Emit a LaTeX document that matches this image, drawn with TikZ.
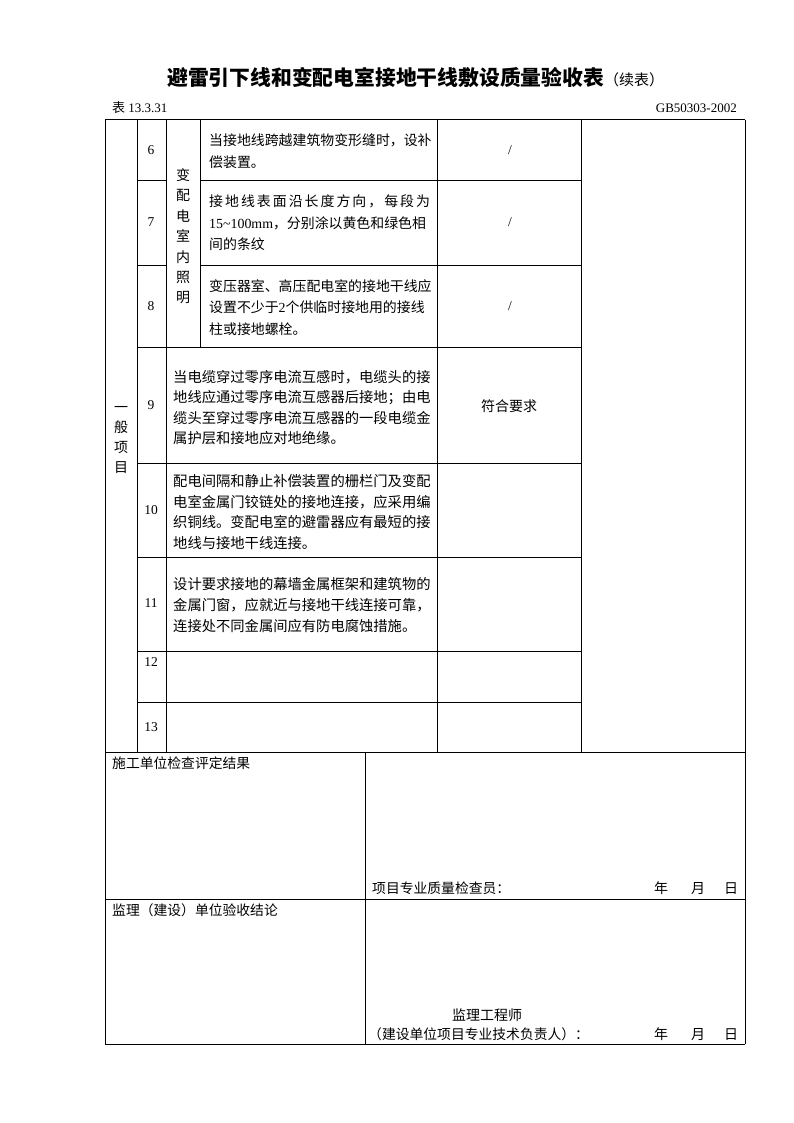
\documentclass[tikz,border=0pt]{standalone}
\usepackage{fontspec}
\setmainfont{Liberation Serif}
\newfontfamily\cjk{Noto Sans CJK SC}
\begin{document}
\begin{tikzpicture}[x=1pt,y=-1pt,
  grid/.style={line width=1pt,black},
  cell/.style={anchor=base west,inner sep=0pt,font=\cjk\fontsize{13.9}{14}\selectfont},
  cellw/.style={anchor=base west,inner sep=0pt,font=\cjk\fontsize{14.3}{14}\selectfont},
  vch/.style={anchor=base,inner sep=0pt,font=\cjk\fontsize{14}{14}\selectfont},
  num/.style={anchor=base,inner sep=0pt,font=\fontsize{13.5}{13.5}\selectfont},
  note/.style={anchor=base west,inner sep=0pt,font=\cjk\fontsize{13.8}{14}\selectfont},
  hdr/.style={inner sep=0pt,font=\fontsize{13}{13}\selectfont},
]
\path[use as bounding box,fill=white] (0,0) rectangle (794,1123);

% title
\node[anchor=base west,inner sep=0pt,font=\cjk\bfseries\fontsize{20.8}{21}\selectfont] (title) at (167,86)
  {避雷引下线和变配电室接地干线敷设质量验收表{\mdseries\fontsize{15}{15}\selectfont （续表）}};
\node[hdr,anchor=base west] (tabno) at (112,113) {{\cjk 表} 13.3.31};
\node[hdr,anchor=base east] (gbno) at (737,113) {GB50303-2002};

% grid: verticals
\draw[grid] (105,120) -- (105,1044);
\draw[grid] (745,120) -- (745,1044);
\draw[grid] (137,120) -- (137,752);
\draw[grid] (166,120) -- (166,752);
\draw[grid] (200,120) -- (200,347);
\draw[grid] (437,120) -- (437,752);
\draw[grid] (581,120) -- (581,752);
\draw[grid] (365,752) -- (365,1044);
% horizontals
\draw[grid] (105,120) -- (745,120);
\draw[grid] (137,181) -- (166,181);
\draw[grid] (200,181) -- (581,181);
\draw[grid] (137,265) -- (166,265);
\draw[grid] (200,265) -- (581,265);
\foreach \yy in {347,463,557,651,702} \draw[grid] (137,\yy) -- (581,\yy);
\draw[grid] (105,752) -- (745,752);
\draw[grid] (105,899) -- (745,899);
\draw[grid] (105,1044) -- (745,1044);

% vertical category labels
\foreach \c [count=\i from 0] in {一,般,项,目}
  \node[vch] (gen\i) at (121,{412+20.2*\i}) {\c};
\foreach \c [count=\i from 0] in {变,配,电,室,内,照,明}
  \node[vch] (cat\i) at (183,{180.5+20.4*\i}) {\c};

% numbers
\node[num] (n6) at (151,154.5) {6};
\node[num] (n7) at (151,226.5) {7};
\node[num] (n8) at (151,310.5) {8};
\node[num] (n9) at (151,409.5) {9};
\node[num] (n10) at (151,514.5) {10};
\node[num] (n11) at (151,607.5) {11};
\node[num] (n12) at (151,666.5) {12};
\node[num] (n13) at (151,731.5) {13};

% row 6
\node[cell] (r6a) at (209,146) {当接地线跨越建筑物变形缝时，设补};
\node[cell] (r6b) at (209,168) {偿装置。};
% row 7
\node[cell] (r7a) at (209,207) {\addfontfeature{LetterSpace=14.5}接地线表面沿长度方向，每段为};
\node[cell] (r7b) at (209,229) {{\rmfamily 15\textasciitilde100mm}，分别涂以黄色和绿色相};
\node[cell] (r7c) at (209,250) {间的条纹};
% row 8
\node[cell] (r8a) at (209,291) {变压器室、高压配电室的接地干线应};
\node[cell] (r8b) at (209,312) {设置不少于{\rmfamily 2}个供临时接地用的接线};
\node[cell] (r8c) at (209,334) {柱或接地螺栓。};
% row 9
\node[cellw] (r9a) at (173,382) {当电缆穿过零序电流互感时，电缆头的接};
\node[cellw] (r9b) at (173,402.5) {地线应通过零序电流互感器后接地；由电};
\node[cellw] (r9c) at (173,423) {缆头至穿过零序电流互感器的一段电缆金};
\node[cellw] (r9d) at (173,443) {属护层和接地应对地绝缘。};
% row 10
\node[cellw] (r10a) at (173,486) {配电间隔和静止补偿装置的栅栏门及变配};
\node[cellw] (r10b) at (173,507) {电室金属门铰链处的接地连接，应采用编};
\node[cellw] (r10c) at (173,527.5) {织铜线。变配电室的避雷器应有最短的接};
\node[cellw] (r10d) at (173,548) {地线与接地干线连接。};
% row 11
\node[cellw] (r11a) at (173,589) {设计要求接地的幕墙金属框架和建筑物的};
\node[cellw] (r11b) at (173,610) {金属门窗，应就近与接地干线连接可靠，};
\node[cellw] (r11c) at (173,631) {连接处不同金属间应有防电腐蚀措施。};

% check column
\node[num] (c6) at (510,155) {/};
\node[num] (c7) at (510,226) {/};
\node[num] (c8) at (510,310) {/};
\node[vch] (c9) at (509,411.5) {符合要求};

% bottom section
\node[note] (sg) at (112,768) {施工单位检查评定结果};
\node[note] (sgq) at (372,893) {项目专业质量检查员：};
\node[vch] (y1) at (661,893) {年};
\node[vch] (m1) at (698,893) {月};
\node[vch] (d1) at (731,893) {日};
\node[note] (jl) at (112,915) {监理（建设）单位验收结论};
\node[vch] (jle) at (487,1020) {监理工程师};
\node[note,anchor=base west] (jsr) at (368,1039) {（建设单位项目专业技术负责人）：};
\node[vch] (y2) at (661,1039) {年};
\node[vch] (m2) at (698,1039) {月};
\node[vch] (d2) at (731,1039) {日};
\end{tikzpicture}
\end{document}
